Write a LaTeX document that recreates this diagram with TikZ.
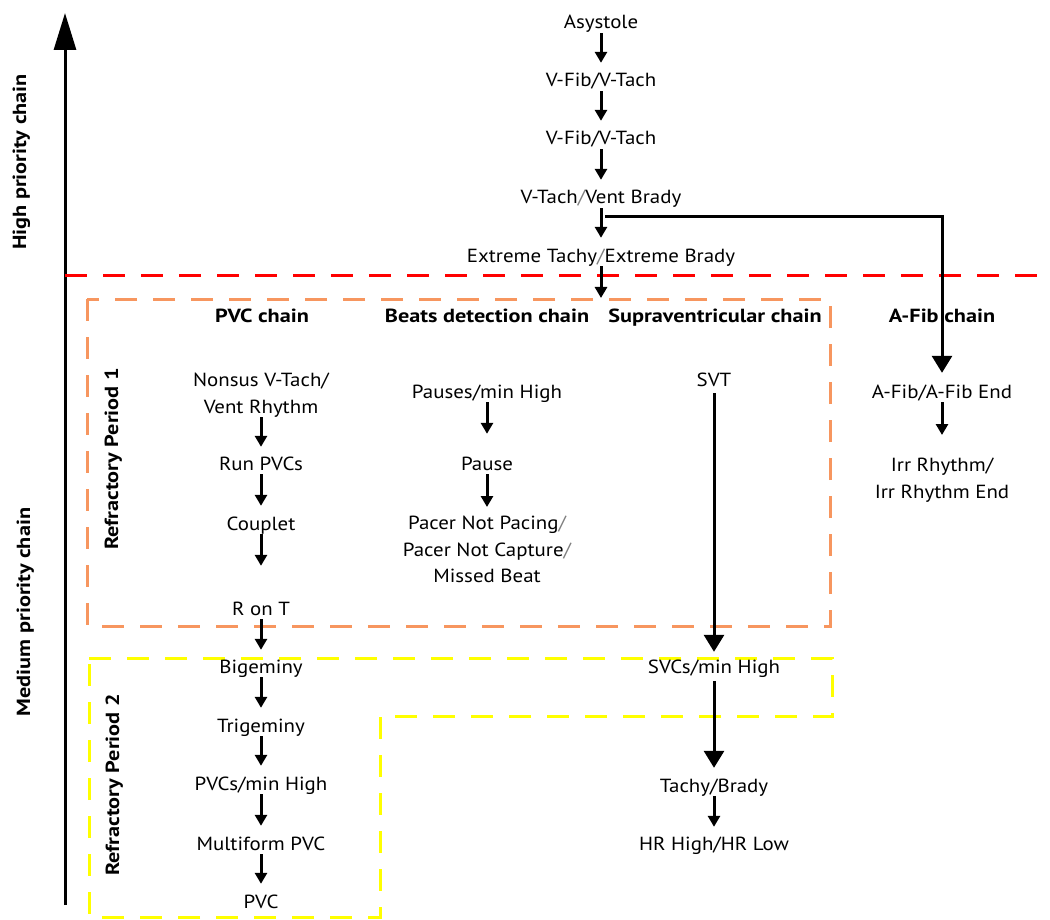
\documentclass[tikz,border=0pt]{standalone}
\usepackage{fontspec}
\setmainfont{PT Sans}[UprightFeatures={FakeStretch=1.1}, BoldFeatures={FakeStretch=1.17}]
\usetikzlibrary{arrows.meta}
\definecolor{rporange}{RGB}{247,150,95}
\definecolor{rpyellow}{RGB}{255,255,0}
\definecolor{priored}{RGB}{255,0,0}
\newcommand{\lslash}{{\color{black!50}/}}
\tikzset{
  lbl/.style={font=\fontsize{19}{26.5}\selectfont, inner sep=0pt, text height=14pt, text depth=4pt, anchor=base},
  mlbl/.style={font=\fontsize{19}{26.5}\selectfont, inner sep=0pt, align=center, anchor=north},
  hdr/.style={font=\fontsize{19}{26.5}\selectfont\bfseries, inner sep=0pt, text height=14pt, text depth=4pt},
  sarr/.style={line width=3pt, -{Triangle[length=11pt,width=12pt]}, shorten >=10pt},
  barr/.style={line width=3pt, -{Triangle[length=17pt,width=20pt]}},
  dashpat/.style={line width=3pt, dash pattern=on 22pt off 16pt},
}
\begin{document}
\begin{tikzpicture}[x=1pt,y=-1pt]
\useasboundingbox (0,0) rectangle (1050,920);
% axis
\coordinate (axbot) at (65,905);
\coordinate (axtop) at (65,13);
\draw[line width=3pt, -{Triangle[length=37pt,width=22pt]}] (axbot) -- (axtop);
\node[hdr, rotate=90] (high) at (21,162) {High priority chain};
\node[hdr, rotate=90] (medium) at (25,612) {Medium priority chain};
% separator
\coordinate (redL) at (65,276);
\coordinate (redR) at (1050,276);
\draw[dashpat, priored] (redL) -- (redR);
% refractory boxes
\draw[dashpat, rporange] (87,299) rectangle (830,626);
\draw[dashpat, rpyellow] (89,658) -- (832,658) -- (832,716) -- (380,716) -- (380,917) -- (89,917) -- cycle;
\node[hdr, rotate=90] (rp1) at (113,459) {Refractory Period 1};
\node[hdr, rotate=90] (rp2) at (114,785) {Refractory Period 2};
% high priority chain
\node[lbl] (asy) at (601,29) {Asystole};
\node[lbl] (vf1) at (601,87) {V-Fib/V-Tach};
\node[lbl] (vf2) at (601,145) {V-Fib/V-Tach};
\node[lbl] (vtb) at (601,204) {V-Tach\lslash Vent Brady};
\node[lbl] (ext) at (601,262) {Extreme Tachy\lslash Extreme Brady};
\coordinate (rp1in) at (601,298);
\draw[sarr] (asy) -- (vf1);
\draw[sarr] (vf1) -- (vf2);
\draw[sarr] (vf2) -- (vtb);
\draw[sarr] (vtb) -- (ext);
\draw[sarr, shorten >=0pt] (ext) -- (rp1in);
% headers
\node[hdr, anchor=base] (hpvc) at (262,322) {PVC chain};
\node[hdr, anchor=base] (hbeat) at (487,322) {Beats detection chain};
\node[hdr, anchor=base] (hsv) at (715,322) {Supraventricular chain};
\node[hdr, anchor=base] (haf) at (942,322) {A-Fib chain};
% PVC chain
\node[mlbl] (nonsus) at (261,373) {Nonsus V-Tach/\\Vent Rhythm};
\node[lbl] (run) at (261,470) {Run PVCs};
\node[lbl] (coup) at (261,530) {Couplet};
\node[lbl] (ront) at (261,615) {R on T};
\node[lbl] (bige) at (261,673) {Bigeminy};
\node[lbl] (trig) at (261,732) {Trigeminy};
\node[lbl] (pvcmin) at (261,790) {PVCs/min High};
\node[lbl] (multi) at (261,850) {Multiform PVC};
\node[lbl] (pvc) at (261,908) {PVC};
\draw[sarr, shorten >=9pt] (nonsus) -- (run);
\draw[sarr] (run) -- (coup);
\draw[sarr, shorten >=35pt] (coup) -- (ront);
\draw[sarr, shorten >=9pt] (ront) -- (bige);
\draw[sarr] (bige) -- (trig);
\draw[sarr] (trig) -- (pvcmin);
\draw[sarr] (pvcmin) -- (multi);
\draw[sarr] (multi) -- (pvc);
% beats detection chain
\node[lbl] (pmin) at (487,398) {Pauses/min High};
\node[lbl] (pause) at (487,470) {Pause};
\node[mlbl] (pacer) at (487,516) {Pacer Not Pacing\lslash\\Pacer Not Capture\lslash\\Missed Beat};
\draw[sarr, shorten >=22pt] (pmin) -- (pause);
\draw[sarr, shorten >=9pt] (pause) -- (pacer);
% supraventricular chain
\node[lbl] (svt) at (714,386) {SVT};
\node[lbl] (svc) at (714,673) {SVCs/min High};
\node[lbl] (tach) at (714,792) {Tachy/Brady};
\node[lbl] (hr) at (714,850) {HR High/HR Low};
\draw[barr, shorten >=7pt, shorten <=3pt] (svt) -- (svc);
\draw[barr, shorten >=10pt, shorten <=4pt] (svc) -- (tach);
\draw[sarr, shorten >=9pt] (tach) -- (hr);
% A-Fib chain
\node[lbl] (afib) at (942,398) {A-Fib/A-Fib End};
\node[mlbl] (irr) at (942,458) {Irr Rhythm/\\Irr Rhythm End};
\coordinate (br) at (605,217);
\draw[barr, shorten >=11pt] (br) -| (afib);
\draw[sarr, shorten >=23pt] (afib) -- (irr);
\end{tikzpicture}
\end{document}
